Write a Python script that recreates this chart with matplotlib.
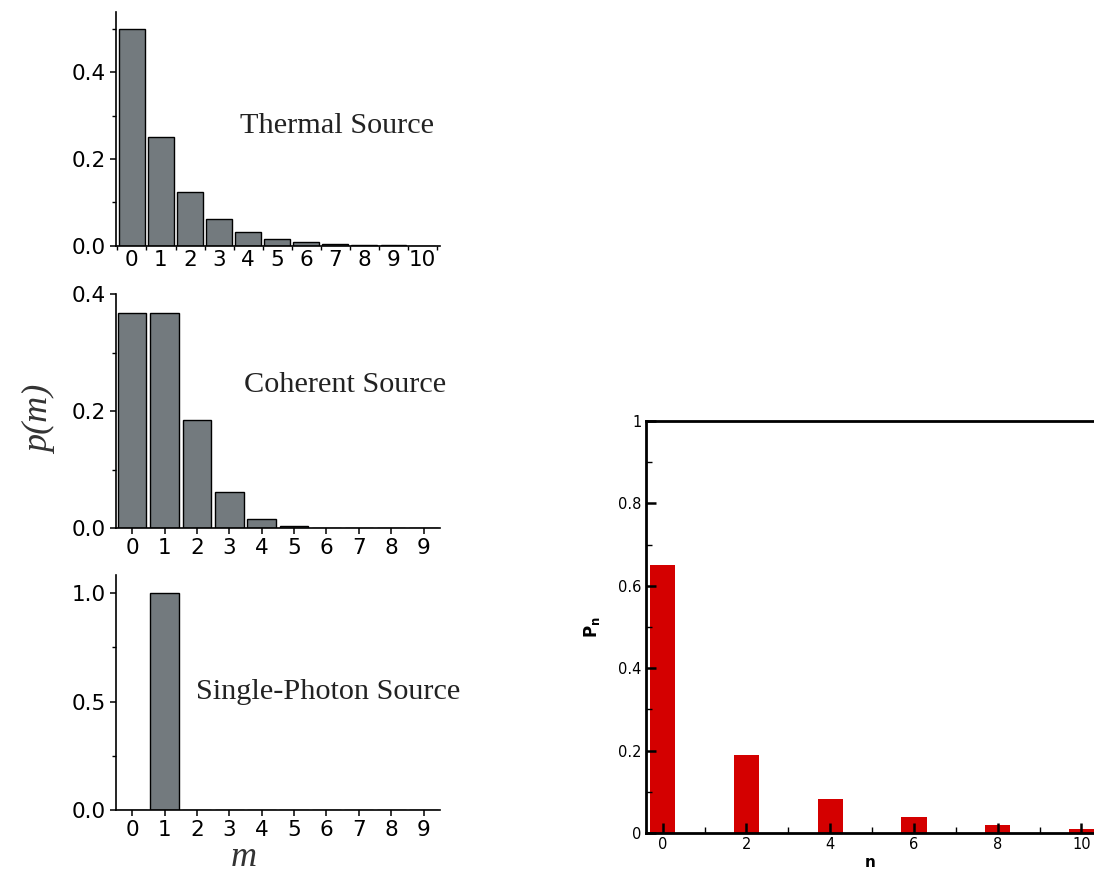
import numpy as np
import matplotlib
matplotlib.use('Agg')
import matplotlib.pyplot as plt
from matplotlib.ticker import MultipleLocator, FixedLocator

plt.rcParams['font.family'] = 'DejaVu Sans'
plt.rcParams['mathtext.fontset'] = 'dejavusans'
plt.rcParams['axes.unicode_minus'] = False

# photon number distributions (left column)
m_thermal = np.arange(0, 11)
p_thermal = [0.5, 0.25, 0.125, 0.0625, 0.031, 0.016, 0.008, 0.004, 0.002, 0.001, 0.0005]
m_coherent = np.arange(0, 10)
p_coherent = [0.368, 0.368, 0.184, 0.061, 0.015, 0.003, 0.0005, 0.0001, 0.0, 0.0]
m_single = np.arange(0, 10)
p_single = [0.0, 1.0, 0, 0, 0, 0, 0, 0, 0, 0]
labels = ['Thermal Source', 'Coherent Source', 'Single-Photon Source']

# right panel
n_vals = [0, 2, 4, 6, 8, 10]
p_n = [0.65, 0.189, 0.083, 0.039, 0.019, 0.01]

gray = '#737a7e'
red = '#d40000'

fig = plt.figure(figsize=(10.94, 8.72), dpi=100)

def left_axes(rect):
    ax = fig.add_axes(rect)
    for s in ['top', 'right']:
        ax.spines[s].set_visible(False)
    for s in ['left', 'bottom']:
        ax.spines[s].set_linewidth(1.2)
    ax.tick_params(labelsize=15.5, direction='out', length=4, width=1.1, pad=3)
    ax.tick_params(which='minor', direction='out', length=3, width=1.0)
    return ax

# thermal
ax1 = left_axes([0.106, 0.718, 0.296, 0.268])
ax1.bar(m_thermal, p_thermal, width=0.88, color=gray, edgecolor='black', linewidth=1)
ax1.set_xlim(-0.55, 10.6)
ax1.set_ylim(0, 0.538)
ax1.set_xticks(m_thermal)
ax1.xaxis.set_minor_locator(FixedLocator(np.arange(-0.5, 11, 1.0)))
ax1.tick_params(axis='x', which='major', length=0)
ax1.set_yticks([0.0, 0.2, 0.4])
ax1.set_yticklabels(['0.0', '0.2', '0.4'])
ax1.yaxis.set_minor_locator(MultipleLocator(0.1))
ax1.text(0.383, 0.513, labels[0], transform=ax1.transAxes, family='Liberation Serif',
         fontsize=21.8, va='center', ha='left', color='#222222')

# coherent
ax2 = left_axes([0.106, 0.3945, 0.296, 0.268])
ax2.bar(m_coherent, p_coherent, width=0.88, color=gray, edgecolor='black', linewidth=1)
ax2.set_xlim(-0.5, 9.5)
ax2.set_ylim(0, 0.4)
ax2.set_xticks(m_coherent)
ax2.set_yticks([0.0, 0.2, 0.4])
ax2.set_yticklabels(['0.0', '0.2', '0.4'])
ax2.yaxis.set_minor_locator(MultipleLocator(0.1))
ax2.text(0.395, 0.611, labels[1], transform=ax2.transAxes, family='Liberation Serif',
         fontsize=21.8, va='center', ha='left', color='#222222')

# single photon
ax3 = left_axes([0.106, 0.0711, 0.296, 0.2695])
ax3.bar(m_single, p_single, width=0.9, color=gray, edgecolor='black', linewidth=1)
ax3.set_xlim(-0.5, 9.5)
ax3.set_ylim(0, 1.083)
ax3.set_xticks(m_single)
ax3.set_yticks([0.0, 0.5, 1.0])
ax3.set_yticklabels(['0.0', '0.5', '1.0'])
ax3.yaxis.set_minor_locator(MultipleLocator(0.25))
ax3.text(0.247, 0.502, labels[2], transform=ax3.transAxes, family='Liberation Serif',
         fontsize=21.8, va='center', ha='left', color='#222222')

fig.text(244 / 1094, 1 - 857 / 872, 'm', fontsize=26, family='Liberation Serif',
         style='italic', va='center', ha='center', color='#333333')
fig.text(0.037, 1 - 420 / 872, 'p(m)', rotation=90, fontsize=26,
         family='Liberation Serif', style='italic', va='center', ha='center',
         color='#333333')

# right panel
ax4 = fig.add_axes([0.5905, 0.0447, 0.4095, 0.4725])
ax4.bar(n_vals, p_n, width=0.6, color=red, linewidth=0)
ax4.set_xlim(-0.4, 10.3)
ax4.set_ylim(0, 1)
ax4.spines['right'].set_visible(False)
for s in ['left', 'bottom', 'top']:
    ax4.spines[s].set_linewidth(2)
ax4.set_xticks(n_vals)
ax4.xaxis.set_minor_locator(MultipleLocator(1))
ax4.set_yticks([0, 0.2, 0.4, 0.6, 0.8, 1.0])
ax4.set_yticklabels(['0', '0.2', '0.4', '0.6', '0.8', '1'])
ax4.yaxis.set_minor_locator(MultipleLocator(0.1))
ax4.tick_params(direction='in', length=7, width=1.8, labelsize=10.5, pad=3)
ax4.tick_params(which='minor', direction='in', length=4, width=1.0)
ax4.set_xlabel('n', fontsize=11, fontweight='bold', labelpad=2)
ax4.set_ylabel(r'$\mathbf{P}_{\mathbf{n}}$', fontsize=12, labelpad=12)

fig.savefig('out.png', dpi=100)
